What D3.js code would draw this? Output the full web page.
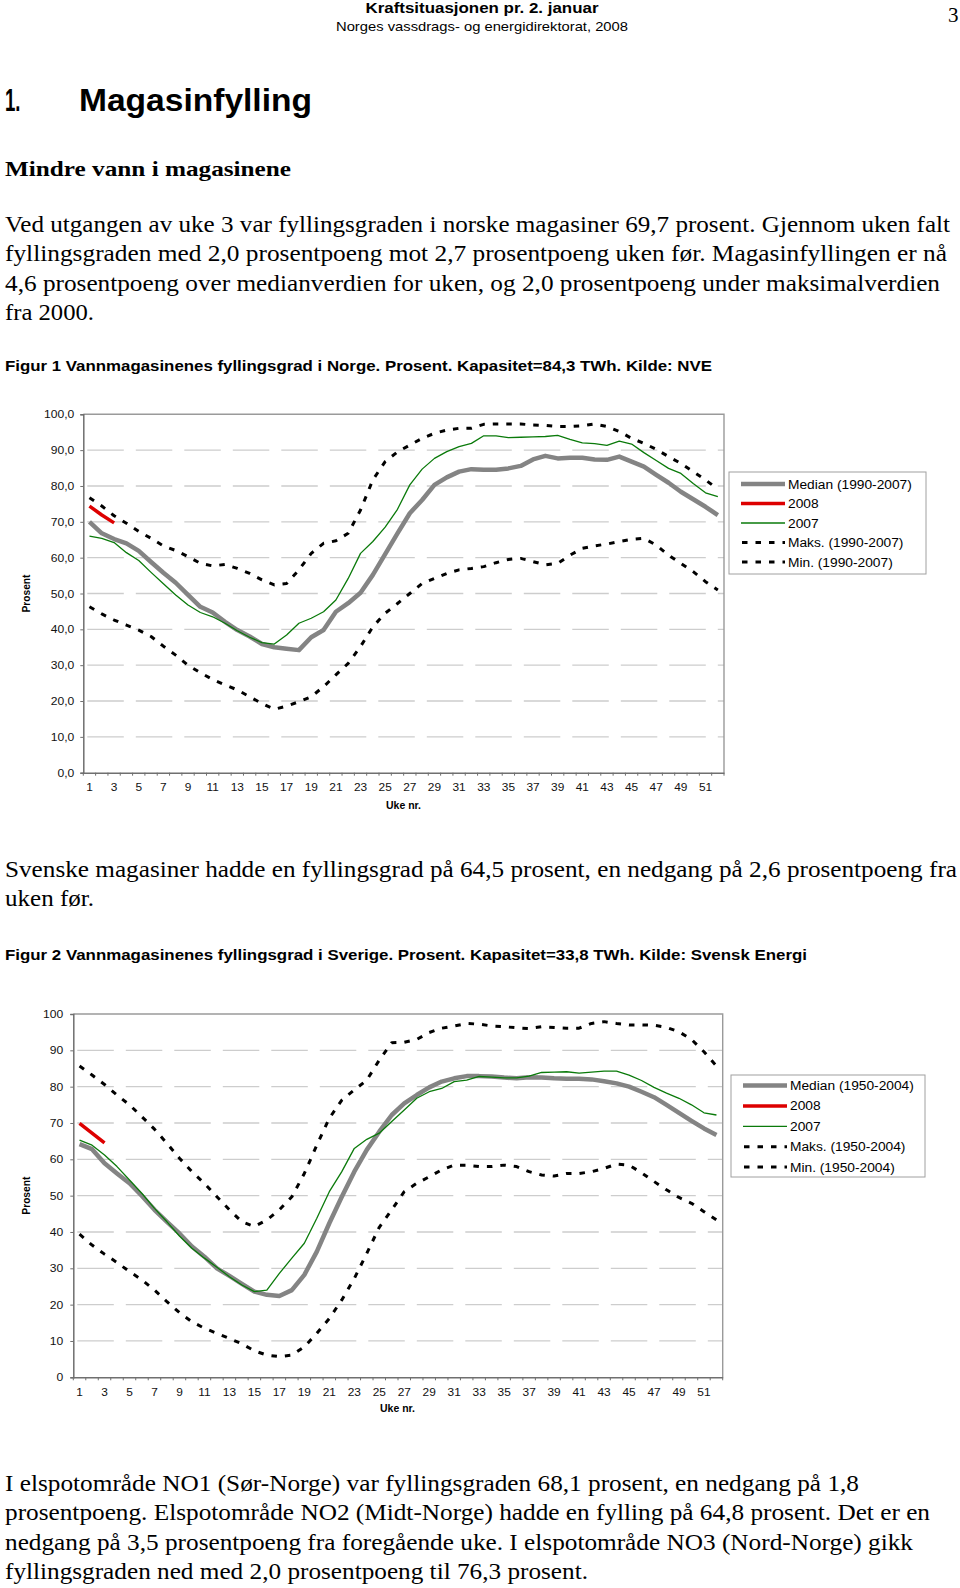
<!DOCTYPE html>
<html><head><meta charset="utf-8">
<script src="https://cdn.jsdelivr.net/npm/d3@7"></script>
<style>body{margin:0;background:#fff}svg{display:block}</style>
</head><body>
<svg id="page" width="960" height="1588"></svg>
<script>
// ---------- DATA ----------
const weeks = d3.range(1, 53);
const xTickWeeks = d3.range(1, 52, 2);
const yTickValues = d3.range(0, 101, 10);

// Figur 1 – Norge
const noMedian = [70.0,66.8,65.2,64.0,61.9,58.8,55.8,53.0,49.6,46.3,44.7,42.1,39.8,38.0,35.9,35.0,34.6,34.2,37.8,39.8,44.9,47.3,50.2,55.2,61.0,66.8,72.4,76.1,80.3,82.4,84.0,84.7,84.5,84.5,84.9,85.6,87.4,88.4,87.7,87.9,87.9,87.4,87.3,88.2,86.8,85.4,83.1,80.9,78.4,76.3,74.2,71.9];
const no2008 = [74.4,71.9,69.7];
const no2007 = [66.0,65.4,64.2,61.4,59.2,55.9,52.7,49.6,46.8,44.7,43.5,41.7,39.6,37.8,36.3,35.9,38.4,41.7,43.1,44.9,48.2,54.2,61.2,64.5,68.5,73.5,80.3,84.7,87.7,89.6,91.0,91.9,94.0,94.0,93.5,93.6,93.7,93.8,94.1,93.0,92.0,91.8,91.3,92.5,91.7,89.3,87.1,84.9,83.5,80.7,78.1,77.0];
const noMax = [76.7,74.4,71.7,69.6,67.3,65.4,63.3,62.0,60.3,58.4,57.7,58.1,57.0,55.6,53.8,52.4,52.8,56.6,61.2,64.0,64.7,66.8,73.3,81.7,86.8,89.5,91.4,93.3,94.7,95.6,96.1,96.1,97.2,97.3,97.3,97.3,97.0,96.9,96.6,96.6,96.8,97.3,96.6,95.2,93.3,91.9,90.2,88.2,86.3,84.0,81.7,79.1];
const noMin = [46.3,44.3,42.6,41.2,39.8,38.0,35.3,32.8,30.0,27.9,26.0,24.5,23.1,21.2,19.3,17.7,18.6,19.8,21.2,24.0,27.3,30.5,35.2,40.7,44.5,47.2,50.0,52.8,54.2,55.6,56.6,57.0,57.5,58.6,59.5,59.8,58.9,58.0,58.4,60.7,62.6,63.3,63.8,64.5,65.1,65.4,63.5,60.7,58.4,56.1,53.3,51.0];
const noLegend = ["Median (1990-2007)","2008","2007","Maks. (1990-2007)","Min. (1990-2007)"];

// Figur 2 – Sverige
const seMedian = [64.2,62.8,58.9,56.1,53.4,49.9,46.1,42.8,39.6,36.0,33.2,30.0,27.9,25.7,23.6,22.7,22.4,24.0,28.2,34.6,42.4,49.7,56.6,62.6,67.6,72.2,75.4,77.7,79.8,81.4,82.3,82.9,82.9,82.8,82.5,82.3,82.6,82.5,82.3,82.2,82.2,82.0,81.5,80.9,80.0,78.6,77.1,75.0,72.8,70.6,68.5,66.7];
const se2008 = [69.9,67.2,64.5];
const se2007 = [65.3,63.9,61.2,58.0,54.3,50.6,46.5,42.8,38.9,35.5,32.8,30.3,27.7,25.4,23.6,24.0,28.6,32.8,36.9,43.8,51.1,56.6,63.0,65.5,67.2,70.4,73.6,76.8,78.6,79.5,81.4,81.8,82.8,82.6,82.4,82.4,82.9,83.9,84.0,84.1,83.7,84.0,84.3,84.3,83.2,81.7,79.8,78.2,76.8,75.0,72.8,72.2];
const seMax = [85.7,83.2,80.6,77.7,75.0,71.7,68.3,64.4,60.3,56.6,53.4,49.7,46.1,42.8,41.5,43.3,46.1,49.7,56.1,63.9,71.3,76.3,79.1,81.8,87.3,92.1,92.2,93.0,94.9,96.1,96.7,97.4,97.2,96.7,96.5,96.2,96.0,96.5,96.3,96.1,96.1,97.4,97.9,97.4,97.0,97.0,96.9,96.3,95.1,93.0,89.6,85.7];
const seMin = [39.4,36.4,33.9,31.6,29.1,26.8,24.0,20.8,17.8,15.3,13.5,12.1,10.7,9.2,7.3,6.1,5.7,6.1,8.4,12.1,16.2,21.3,27.2,34.1,41.3,46.1,51.1,53.4,55.2,57.1,58.4,58.4,58.0,58.0,58.4,58.0,56.6,55.7,55.4,56.1,56.1,56.6,57.5,58.7,58.4,56.3,53.9,51.6,49.5,47.9,45.6,43.3];
const seLegend = ["Median (1950-2004)","2008","2007","Maks. (1950-2004)","Min. (1950-2004)"];

// ---------- HELPERS ----------
const svg = d3.select("#page");
svg.append("rect").attr("width",960).attr("height",1588).attr("fill","#fff");
const SANS = "'Liberation Sans', Arial, sans-serif";
const SERIF = "'Liberation Serif', 'Times New Roman', serif";

function txt(s, x, y, o) {
  const t = svg.append("text").text(s).attr("x", x).attr("y", y)
    .attr("font-family", o.serif ? SERIF : SANS)
    .attr("font-size", o.size).attr("fill", "#000")
    .attr("font-weight", o.bold ? "bold" : "normal");
  if (o.anchor) t.attr("text-anchor", o.anchor);
  if (o.w) t.attr("textLength", o.w).attr("lengthAdjust", "spacingAndGlyphs");
  return t;
}
function stretch(sel, f) {
  sel.each(function () {
    const w = this.getComputedTextLength();
    this.setAttribute("textLength", (w * f).toFixed(2));
    this.setAttribute("lengthAdjust", "spacingAndGlyphs");
  });
}

// ---------- PAGE TEXT ----------
txt("Kraftsituasjonen pr. 2. januar", 482, 13, {size:15, bold:true, anchor:"middle", w:233});
txt("Norges vassdrags- og energidirektorat, 2008", 482, 31, {size:13.5, anchor:"middle", w:292});
txt("3", 948, 22, {size:21, serif:true});
txt("1.", 5, 111, {size:32, bold:true, w:15.5});
txt("Magasinfylling", 79, 111, {size:32, bold:true, w:233});
txt("Mindre vann i magasinene", 5, 176, {size:22, bold:true, serif:true, w:286});

const para1 = [
  ["Ved utgangen av uke 3 var fyllingsgraden i norske magasiner 69,7 prosent. Gjennom uken falt", 945],
  ["fyllingsgraden med 2,0 prosentpoeng mot 2,7 prosentpoeng uken før. Magasinfyllingen er nå", 942],
  ["4,6 prosentpoeng over medianverdien for uken, og 2,0 prosentpoeng under maksimalverdien", 935],
  ["fra 2000.", 89]
];
para1.forEach((p, i) => txt(p[0], 5, 232 + i * 29.3, {size:22.5, serif:true, w:p[1]}));
txt("Figur 1 Vannmagasinenes fyllingsgrad i Norge. Prosent. Kapasitet=84,3 TWh. Kilde: NVE", 5, 371, {size:15, bold:true, w:707});

txt("Svenske magasiner hadde en fyllingsgrad på 64,5 prosent, en nedgang på 2,6 prosentpoeng fra", 5, 877, {size:22.5, serif:true, w:952});
txt("uken før.", 5, 906, {size:22.5, serif:true, w:89});
txt("Figur 2 Vannmagasinenes fyllingsgrad i Sverige. Prosent. Kapasitet=33,8 TWh. Kilde: Svensk Energi", 5, 960, {size:15, bold:true, w:802});

const para3 = [
  ["I elspotområde NO1 (Sør-Norge) var fyllingsgraden 68,1 prosent, en nedgang på 1,8", 854],
  ["prosentpoeng. Elspotområde NO2 (Midt-Norge) hadde en fylling på 64,8 prosent. Det er en", 925],
  ["nedgang på 3,5 prosentpoeng fra foregående uke. I elspotområde NO3 (Nord-Norge) gikk", 908],
  ["fyllingsgraden ned med 2,0 prosentpoeng til 76,3 prosent.", 583]
];
para3.forEach((p, i) => txt(p[0], 5, 1491 + i * 29.4, {size:22.5, serif:true, w:p[1]}));

// ---------- CHART ----------
function chart(c) {
  const g = svg.append("g");
  const x = d3.scaleBand().domain(weeks).range([c.x0, c.x1]);
  const y = d3.scaleLinear().domain([0, 100]).range([c.yb, c.yt]);
  const cx = w => x(w) + x.bandwidth() / 2;

  // gridlines
  g.append("g").selectAll("line").data(yTickValues.filter(v => v > 0 && v < 100)).join("line")
    .attr("x1", c.x0 + 1).attr("x2", c.x1).attr("y1", d => y(d)).attr("y2", d => y(d))
    .attr("stroke", "#cdcdcd").attr("stroke-width", 1.3).attr("stroke-dasharray", "36.5,12")
    .attr("stroke-dashoffset", -3);

  // plot border top/right
  g.append("path").attr("d", `M${c.x0},${y(100)}H${c.x1}V${y(0)}`)
    .attr("fill", "none").attr("stroke", "#9a9a9a").attr("stroke-width", 1.4);

  // y axis
  const ya = g.append("g").attr("transform", `translate(${c.x0},0)`)
    .call(d3.axisLeft(y).tickValues(yTickValues).tickSize(3).tickPadding(c.ypad).tickFormat(c.fmt));
  ya.select(".domain").attr("stroke", "#6f6f6f").attr("stroke-width", 1.5);
  ya.selectAll(".tick line").attr("stroke", "#6f6f6f");
  ya.selectAll(".tick text").attr("font-family", SANS).attr("font-size", 11).attr("fill", "#111");
  stretch(ya.selectAll(".tick text"), 1.1);

  // x axis
  const xa = g.append("g").attr("transform", `translate(0,${c.yb})`)
    .call(d3.axisBottom(x).tickValues(xTickWeeks).tickSize(0).tickPadding(c.xpad));
  xa.select(".domain").attr("stroke", "#6f6f6f").attr("stroke-width", 1.5);
  xa.selectAll(".tick text").attr("font-family", SANS).attr("font-size", 11).attr("fill", "#111");
  stretch(xa.selectAll(".tick text"), 1.08);
  g.append("g").selectAll("line").data(weeks.concat([53])).join("line")
    .attr("x1", w => w <= 52 ? x(w) : c.x1).attr("x2", w => w <= 52 ? x(w) : c.x1)
    .attr("y1", c.yb).attr("y2", c.yb + 3).attr("stroke", "#6f6f6f").attr("stroke-width", 1);

  // axis titles
  const pt = txt("Prosent", 0, 0, {size:10, bold:true, anchor:"middle", w:38});
  pt.attr("transform", `translate(${c.px},${(c.yt + c.yb) / 2}) rotate(-90)`);
  txt("Uke nr.", c.ux, c.uy, {size:10, bold:true, w:35});

  // series
  const line = d3.line().x((d, i) => cx(i + 1)).y(d => y(d));
  const draw = (data, col, w, dash) => {
    const p = g.append("path").datum(data).attr("d", line).attr("fill", "none")
      .attr("stroke", col).attr("stroke-width", w).attr("stroke-linejoin", "round");
    if (dash) p.attr("stroke-dasharray", dash);
  };
  draw(c.median, "#848484", 4.5);
  draw(c.y2007, "#0a7a0a", 1.3);
  draw(c.max, "#000", 3, "5.5,8");
  draw(c.min, "#000", 3, "5.5,8");
  draw(c.y2008, "#dd0000", 3.5);

  // legend
  g.append("rect").attr("x", c.lx).attr("y", c.ly).attr("width", c.lw).attr("height", c.lh)
    .attr("fill", "#fff").attr("stroke", "#a0a0a0").attr("stroke-width", 1);
  const styles = [["#848484", 4.5, null], ["#dd0000", 3.5, null], ["#0a7a0a", 1.3, null], ["#000", 3, "5.5,8"], ["#000", 3, "5.5,8"]];
  c.legend.forEach((name, i) => {
    const yy = c.ly0 + i * c.lstep;
    const s = styles[i];
    const l = g.append("line").attr("x1", c.lx + 12).attr("x2", c.lx + 56).attr("y1", yy).attr("y2", yy)
      .attr("stroke", s[0]).attr("stroke-width", s[1]);
    if (s[2]) l.attr("stroke-dasharray", s[2]).attr("stroke-dashoffset", -1);
    const t = txt(name, c.lx + 59, yy + 4.5, {size:12.5});
    stretch(t, 1.1);
  });
}

chart({
  x0: 83.3, x1: 724, yt: 414.3, yb: 772.7, ypad: 6, xpad: 11,
  fmt: d => d3.format(".1f")(d).replace(".", ","),
  px: 30, ux: 386, uy: 809,
  median: noMedian, y2008: no2008, y2007: no2007, max: noMax, min: noMin,
  legend: noLegend, lx: 729, ly: 472, lw: 197, lh: 102, ly0: 484, lstep: 19.5
});
chart({
  x0: 73.3, x1: 722.7, yt: 1014, yb: 1377.3, ypad: 7, xpad: 11,
  fmt: d => String(d),
  px: 30, ux: 380, uy: 1412,
  median: seMedian, y2008: se2008, y2007: se2007, max: seMax, min: seMin,
  legend: seLegend, lx: 731, ly: 1075, lw: 194, lh: 102, ly0: 1085.5, lstep: 20.4
});
</script>
</body></html>
